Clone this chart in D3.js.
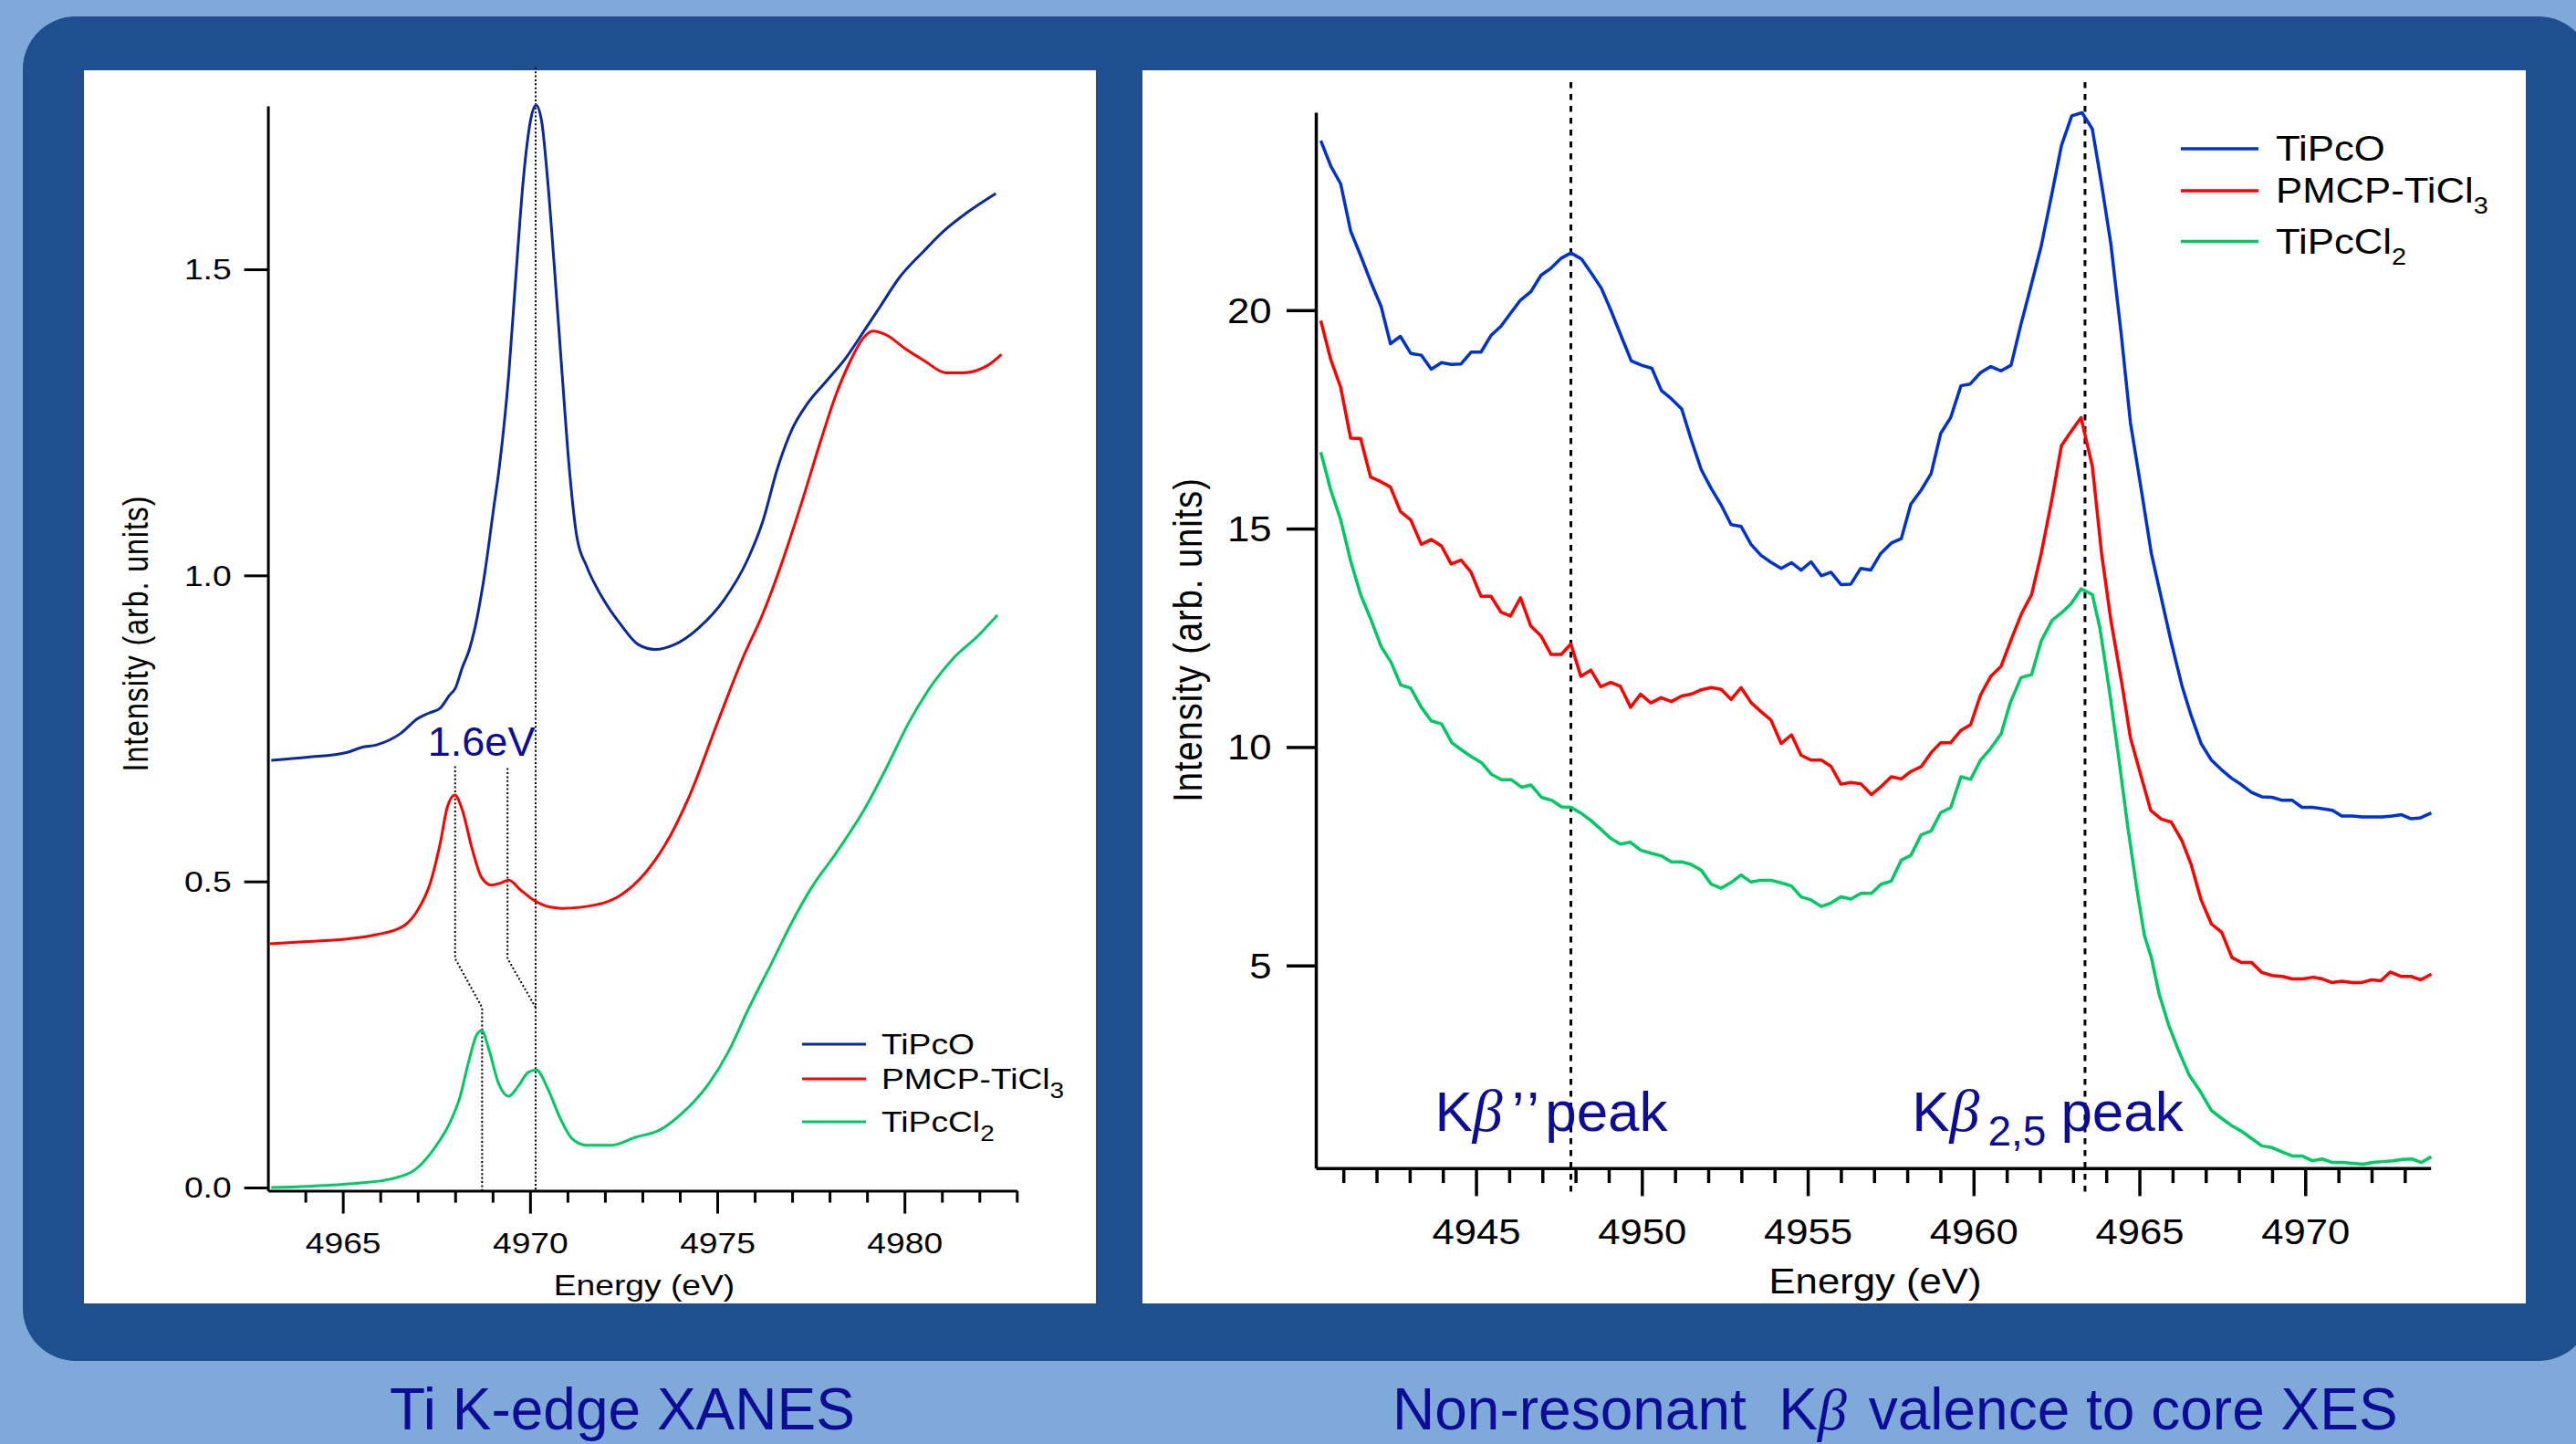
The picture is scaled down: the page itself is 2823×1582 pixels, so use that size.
<!DOCTYPE html>
<html>
<head>
<meta charset="utf-8">
<script src="https://cdn.jsdelivr.net/npm/d3@7"></script>
<style>
  html, body { margin: 0; padding: 0; background: #7fa9d8; }
  svg { display: block; }
</style>
</head>
<body>
<svg id="slide" width="2823" height="1582"></svg>
<script>
// ---- data ----
// Ti K-edge XANES  [energy eV, intensity]
const xanesTiPcO = [
  [4963.09,0.698],[4964.07,0.703],[4965.12,0.711],[4965.51,0.719],[4965.90,0.723],[4966.55,0.742],
  [4967.00,0.766],[4967.30,0.775],[4967.60,0.783],[4967.86,0.805],[4968.00,0.815],[4968.19,0.849],
  [4968.38,0.879],[4968.51,0.909],[4968.77,0.995],[4969.03,1.110],[4969.16,1.167],[4969.43,1.327],
  [4969.62,1.487],[4969.82,1.646],[4970.01,1.742],[4970.16,1.768],[4970.31,1.742],[4970.47,1.646],
  [4970.67,1.487],[4970.86,1.327],[4971.06,1.167],[4971.25,1.063],[4971.51,1.015],[4971.90,0.967],
  [4972.43,0.919],[4972.89,0.887],[4973.34,0.879],[4973.86,0.887],[4974.52,0.915],[4975.17,0.959],
  [4975.82,1.027],[4976.21,1.087],[4976.61,1.175],[4977.00,1.239],[4977.39,1.279],[4977.91,1.317],
  [4978.43,1.355],[4978.96,1.403],[4979.35,1.439],[4979.87,1.487],[4980.52,1.530],[4981.04,1.562],
  [4981.70,1.594],[4982.44,1.624]
];
const xanesPMCP = [
  [4963.05,0.398],[4964.07,0.402],[4965.12,0.406],[4965.90,0.413],[4966.62,0.427],[4967.01,0.454],
  [4967.34,0.498],[4967.60,0.562],[4967.79,0.621],[4967.99,0.641],[4968.19,0.617],[4968.45,0.554],
  [4968.71,0.506],[4968.97,0.494],[4969.20,0.497],[4969.43,0.502],[4969.75,0.486],[4970.08,0.470],
  [4970.54,0.458],[4970.86,0.456],[4971.78,0.462],[4972.43,0.478],[4973.08,0.514],[4973.60,0.559],
  [4974.26,0.640],[4975.04,0.765],[4975.69,0.866],[4976.21,0.936],[4976.74,1.023],[4977.26,1.120],
  [4977.78,1.223],[4978.17,1.295],[4978.56,1.351],[4978.89,1.387],[4979.15,1.399],[4979.54,1.392],
  [4980.00,1.371],[4980.52,1.351],[4981.11,1.331],[4981.57,1.331],[4982.22,1.343],[4982.59,1.361]
];
const xanesTiPcCl2 = [
  [4963.09,0.000],[4964.07,0.002],[4965.38,0.007],[4966.29,0.014],[4966.95,0.030],[4967.47,0.066],
  [4967.86,0.106],[4968.12,0.146],[4968.38,0.210],[4968.58,0.250],[4968.71,0.256],[4968.90,0.226],
  [4969.16,0.170],[4969.43,0.149],[4969.69,0.166],[4969.95,0.188],[4970.17,0.192],[4970.47,0.162],
  [4970.80,0.114],[4971.12,0.080],[4971.51,0.069],[4972.17,0.069],[4972.82,0.082],[4973.47,0.094],
  [4974.00,0.118],[4974.78,0.170],[4975.30,0.222],[4975.82,0.290],[4976.48,0.370],[4977.00,0.434],
  [4977.52,0.490],[4978.17,0.546],[4978.96,0.621],[4979.48,0.681],[4980.13,0.761],[4980.78,0.825],
  [4981.31,0.865],[4981.96,0.901],[4982.48,0.935]
];

// Kbeta valence to core XES  [energy eV, intensity]
const xesTiPcO = [
  [4940.32,23.88],[4940.62,23.30],[4940.92,22.89],[4941.22,21.81],[4941.52,21.25],[4941.82,20.66],
  [4942.14,20.08],[4942.42,19.23],[4942.72,19.40],[4943.03,19.01],[4943.35,18.97],[4943.65,18.65],
  [4943.96,18.80],[4944.25,18.76],[4944.55,18.77],[4944.85,19.04],[4945.15,19.04],[4945.45,19.42],
  [4945.75,19.63],[4946.04,19.93],[4946.34,20.23],[4946.65,20.42],[4946.96,20.80],[4947.26,20.96],
  [4947.57,21.19],[4947.86,21.31],[4948.18,21.17],[4948.48,20.84],[4948.78,20.50],[4949.08,19.97],
  [4949.39,19.38],[4949.68,18.84],[4949.99,18.74],[4950.30,18.67],[4950.59,18.16],[4950.89,17.97],
  [4951.20,17.74],[4951.49,17.03],[4951.79,16.35],[4952.09,15.92],[4952.39,15.54],[4952.69,15.09],
  [4952.99,15.05],[4953.29,14.64],[4953.59,14.39],[4953.89,14.23],[4954.20,14.09],[4954.51,14.22],
  [4954.80,14.05],[4955.10,14.24],[4955.41,13.92],[4955.70,14.00],[4956.00,13.72],[4956.30,13.73],
  [4956.60,14.09],[4956.90,14.05],[4957.20,14.43],[4957.52,14.67],[4957.82,14.77],[4958.11,15.56],
  [4958.42,15.88],[4958.72,16.26],[4959.01,17.18],[4959.31,17.54],[4959.62,18.27],[4959.90,18.31],
  [4960.21,18.57],[4960.52,18.71],[4960.83,18.61],[4961.13,18.74],[4961.43,19.68],[4961.73,20.55],
  [4962.04,21.47],[4962.35,22.62],[4962.65,23.77],[4962.96,24.45],[4963.27,24.52],[4963.58,24.15],
  [4963.86,22.88],[4964.14,21.51],[4964.45,19.46],[4964.73,17.42],[4965.04,15.97],[4965.36,14.43],
  [4965.66,13.41],[4965.96,12.40],[4966.28,11.41],[4966.56,10.72],[4966.86,10.08],[4967.17,9.70],
  [4967.46,9.49],[4967.77,9.29],[4968.07,9.14],[4968.38,8.96],[4968.69,8.86],[4969.00,8.85],
  [4969.31,8.78],[4969.61,8.78],[4969.90,8.62],[4970.21,8.62],[4970.51,8.59],[4970.82,8.55],
  [4971.10,8.42],[4971.42,8.42],[4971.72,8.40],[4972.03,8.40],[4972.32,8.40],[4972.62,8.42],
  [4972.90,8.45],[4973.18,8.36],[4973.48,8.38],[4973.80,8.49]
];
const xesPMCP = [
  [4940.32,19.76],[4940.62,18.87],[4940.92,18.23],[4941.22,17.07],[4941.52,17.06],[4941.82,16.18],
  [4942.14,16.07],[4942.42,15.95],[4942.72,15.39],[4943.03,15.20],[4943.35,14.64],[4943.65,14.75],
  [4943.96,14.60],[4944.25,14.19],[4944.55,14.28],[4944.85,14.00],[4945.15,13.45],[4945.45,13.45],
  [4945.75,13.09],[4946.04,13.00],[4946.34,13.42],[4946.65,12.77],[4946.96,12.54],[4947.26,12.12],
  [4947.57,12.12],[4947.86,12.36],[4948.16,11.62],[4948.46,11.76],[4948.76,11.38],[4949.06,11.48],
  [4949.35,11.39],[4949.66,10.91],[4949.96,11.21],[4950.27,11.01],[4950.58,11.13],[4950.89,11.04],
  [4951.20,11.17],[4951.49,11.21],[4951.79,11.31],[4952.09,11.36],[4952.39,11.32],[4952.69,11.09],
  [4952.99,11.36],[4953.29,11.02],[4953.59,10.81],[4953.89,10.62],[4954.20,10.08],[4954.51,10.28],
  [4954.80,9.81],[4955.10,9.70],[4955.41,9.70],[4955.70,9.56],[4956.00,9.15],[4956.30,9.19],
  [4956.60,9.16],[4956.92,8.91],[4957.22,9.10],[4957.52,9.32],[4957.82,9.27],[4958.11,9.44],
  [4958.42,9.55],[4958.72,9.87],[4959.01,10.10],[4959.31,10.10],[4959.62,10.38],[4959.91,10.51],
  [4960.21,11.19],[4960.52,11.62],[4960.83,11.85],[4961.13,12.45],[4961.45,13.06],[4961.75,13.49],
  [4962.04,14.43],[4962.35,15.62],[4962.65,16.90],[4962.94,17.22],[4963.24,17.54],[4963.58,16.43],
  [4963.86,14.43],[4964.14,12.90],[4964.48,11.41],[4964.73,10.21],[4965.04,9.36],[4965.34,8.55],
  [4965.66,8.35],[4965.96,8.28],[4966.28,7.86],[4966.56,7.31],[4966.86,6.50],[4967.17,5.95],
  [4967.48,5.76],[4967.79,5.18],[4968.07,5.07],[4968.38,5.07],[4968.69,4.84],[4969.00,4.77],
  [4969.31,4.75],[4969.61,4.69],[4969.93,4.69],[4970.23,4.73],[4970.52,4.69],[4970.80,4.61],
  [4971.10,4.64],[4971.42,4.61],[4971.70,4.61],[4972.00,4.67],[4972.28,4.65],[4972.56,4.85],
  [4972.88,4.75],[4973.18,4.75],[4973.48,4.67],[4973.80,4.80]
];
const xesTiPcCl2 = [
  [4940.32,16.75],[4940.62,15.88],[4940.92,15.20],[4941.22,14.26],[4941.52,13.49],[4941.82,12.94],
  [4942.14,12.30],[4942.44,11.94],[4942.73,11.42],[4943.03,11.35],[4943.35,10.91],[4943.65,10.60],
  [4943.96,10.53],[4944.27,10.10],[4944.57,9.93],[4944.86,9.78],[4945.17,9.64],[4945.47,9.37],
  [4945.77,9.25],[4946.07,9.25],[4946.37,9.08],[4946.66,9.13],[4946.97,8.85],[4947.28,8.78],
  [4947.58,8.63],[4947.86,8.62],[4948.16,8.49],[4948.46,8.32],[4948.76,8.12],[4949.06,7.91],
  [4949.35,7.78],[4949.66,7.82],[4949.96,7.64],[4950.27,7.57],[4950.58,7.51],[4950.89,7.37],
  [4951.20,7.37],[4951.49,7.31],[4951.79,7.18],[4952.09,6.86],[4952.39,6.77],[4952.69,6.90],
  [4952.99,7.07],[4953.29,6.91],[4953.59,6.95],[4953.89,6.95],[4954.20,6.89],[4954.51,6.82],
  [4954.80,6.57],[4955.10,6.50],[4955.41,6.35],[4955.70,6.43],[4956.00,6.57],[4956.30,6.52],
  [4956.60,6.65],[4956.92,6.65],[4957.21,6.86],[4957.52,6.93],[4957.82,7.41],[4958.11,7.52],
  [4958.42,7.99],[4958.72,8.08],[4959.01,8.50],[4959.31,8.61],[4959.62,9.32],[4959.91,9.26],
  [4960.21,9.70],[4960.52,9.97],[4960.83,10.30],[4961.11,11.02],[4961.43,11.59],[4961.75,11.66],
  [4962.04,12.43],[4962.37,12.90],[4962.65,13.07],[4962.94,13.28],[4963.24,13.62],[4963.58,13.49],
  [4963.81,12.72],[4964.09,11.32],[4964.37,9.79],[4964.65,8.17],[4964.93,6.72],[4965.15,5.69],
  [4965.36,5.18],[4965.60,4.33],[4965.88,3.64],[4966.16,3.09],[4966.50,2.49],[4966.84,2.11],
  [4967.17,1.68],[4967.46,1.51],[4967.77,1.34],[4968.07,1.21],[4968.38,1.04],[4968.69,0.87],
  [4969.00,0.83],[4969.31,0.73],[4969.61,0.64],[4969.90,0.64],[4970.21,0.53],[4970.51,0.57],
  [4970.82,0.49],[4971.13,0.49],[4971.42,0.47],[4971.74,0.45],[4972.03,0.49],[4972.34,0.51],
  [4972.64,0.53],[4972.94,0.56],[4973.22,0.57],[4973.50,0.49],[4973.80,0.62]
];

const seriesNames = [["TiPcO", ""], ["PMCP-TiCl", "3"], ["TiPcCl", "2"]];

const xanesEnergyMajor = [4965, 4970, 4975, 4980];
const xanesEnergyMinor = [4964, 4966, 4967, 4968, 4969, 4971, 4972, 4973, 4974, 4976, 4977, 4978, 4979, 4981, 4982, 4983];
const xanesIntensityTicks = [0, 0.5, 1.0, 1.5];

const xesEnergyMajor = [4945, 4950, 4955, 4960, 4965, 4970];
const xesEnergyMinor = [4941, 4942, 4943, 4944, 4946, 4947, 4948, 4949, 4951, 4952, 4953, 4954, 4956, 4957, 4958,
                        4959, 4961, 4962, 4963, 4964, 4966, 4967, 4968, 4969, 4971, 4972, 4973];
const xesIntensityTicks = [5, 10, 15, 20];

// guide lines (data units)
const xanesGuides = [
  [[4968.00, 0.688], [4968.00, 0.374], [4968.72, 0.294], [4968.72, -0.005]],
  [[4969.40, 0.685], [4969.40, 0.374], [4970.15, 0.294]],
  [[4970.15, 1.83], [4970.15, -0.005]]
];
const xesPeakEnergies = [4947.86, 4963.36];

const FONT = "'Liberation Sans', Arial, Helvetica, sans-serif";
const GREEK = "'Liberation Serif', 'DejaVu Serif', serif";
const NAVY = "#0c0c96";

const svg = d3.select("#slide");

// slide background
svg.append("rect").attr("width", 2823).attr("height", 1582).attr("fill", "#7fa9d8");
svg.append("rect")
  .attr("x", 25).attr("y", 18).attr("width", 2815).attr("height", 1473)
  .attr("rx", 58).attr("fill", "#1f4f8f");
svg.append("rect").attr("x", 92).attr("y", 77).attr("width", 1109).attr("height", 1351).attr("fill", "#fff");
svg.append("rect").attr("x", 1252).attr("y", 77).attr("width", 1516).attr("height", 1351).attr("fill", "#fff");

function drawAxes(g, x, y, cfg) {
  const s = cfg.stretch;
  const yAxis = g.append("g")
    .attr("transform", `translate(${x.range()[0]},0)`)
    .call(d3.axisLeft(y).tickValues(cfg.yTicks).tickFormat(cfg.yFormat)
      .tickSize(cfg.yTickLen).tickSizeOuter(0).tickPadding(0));
  yAxis.selectAll("text")
    .attr("x", -cfg.yLabelGap / s).attr("dy", "0.35em")
    .attr("transform", `scale(${s},1)`);

  const xAxis = g.append("g")
    .attr("transform", `translate(0,${y.range()[0]})`)
    .call(d3.axisBottom(x).tickValues(cfg.xMajor).tickFormat(d3.format("d"))
      .tickSize(cfg.majorLen).tickSizeOuter(0).tickPadding(0));
  xAxis.selectAll("text")
    .attr("y", cfg.xLabelDrop).attr("dy", 0)
    .attr("transform", `scale(${s},1)`);

  const minor = g.append("g")
    .attr("transform", `translate(0,${y.range()[0]})`)
    .call(d3.axisBottom(x).tickValues(cfg.xMinor).tickFormat("")
      .tickSize(cfg.minorLen).tickSizeOuter(0));
  minor.select(".domain").remove();

  [yAxis, xAxis, minor].forEach(a => {
    a.attr("font-family", FONT).attr("font-size", cfg.fontSize);
    a.selectAll("path, line").attr("stroke", "#000").attr("stroke-width", cfg.axisWidth);
    a.selectAll("text").attr("fill", "#000");
  });
}

function stretchedText(g, px, py, str, cfg, anchor) {
  return g.append("text")
    .attr("transform", `translate(${px},${py}) scale(${cfg.stretch},1)`)
    .attr("text-anchor", anchor || "start")
    .attr("font-family", FONT).attr("font-size", cfg.fontSize)
    .attr("fill", "#000")
    .text(str);
}

function drawLegend(g, cfg) {
  seriesNames.forEach((name, i) => {
    const ry = cfg.legendRows[i];
    g.append("line")
      .attr("x1", cfg.legendX[0]).attr("x2", cfg.legendX[1])
      .attr("y1", ry).attr("y2", ry)
      .attr("stroke", cfg.colors[i]).attr("stroke-width", cfg.lineWidth);
    const t = stretchedText(g, cfg.legendTextX, ry + cfg.legendBaseline, name[0], cfg);
    if (name[1]) {
      t.append("tspan").attr("font-size", cfg.fontSize * cfg.subScale)
        .attr("dy", cfg.fontSize * 0.32).text(name[1]);
    }
  });
}

// ---------------- left: Ti K-edge XANES ----------------
const xanesCfg = {
  stretch: 1.2, fontSize: 31, axisWidth: 3, lineWidth: 3,
  yTicks: xanesIntensityTicks, yFormat: d3.format(".1f"), yTickLen: 26, yLabelGap: 40,
  xMajor: xanesEnergyMajor, xMinor: xanesEnergyMinor, majorLen: 25, minorLen: 13, xLabelDrop: 68.6,
  colors: ["#0a2a9a", "#ff0000", "#00c864"],
  legendX: [879, 949], legendRows: [1144, 1182, 1229], legendTextX: 966, legendBaseline: 11, subScale: 0.75
};
const gL = svg.append("g");
const xL = d3.scaleLinear().domain([4963, 4983]).range([293.6, 1114.3]);
const yL = d3.scaleLinear().domain([-0.0054, 1.767]).range([1304.6, 116]);

const guideLine = d3.line().x(d => xL(d[0])).y(d => yL(d[1]));
gL.selectAll("path.guide").data(xanesGuides).join("path")
  .attr("class", "guide")
  .attr("d", guideLine)
  .attr("fill", "none").attr("stroke", "#000")
  .attr("stroke-width", 2).attr("stroke-dasharray", "2,2.4");

drawAxes(gL, xL, yL, xanesCfg);

const xanesLine = d3.line().x(d => xL(d[0])).y(d => yL(d[1])).curve(d3.curveMonotoneX);
gL.selectAll("path.series").data([xanesTiPcO, xanesPMCP, xanesTiPcCl2]).join("path")
  .attr("class", "series")
  .attr("d", xanesLine)
  .attr("fill", "none")
  .attr("stroke", (d, i) => xanesCfg.colors[i])
  .attr("stroke-width", xanesCfg.lineWidth)
  .attr("stroke-linejoin", "round");

drawLegend(gL, xanesCfg);

stretchedText(gL, 706, 1419, "Energy (eV)", xanesCfg, "middle");
gL.append("text")
  .attr("transform", "translate(162,694) rotate(-90) scale(1,1.2)")
  .attr("text-anchor", "middle")
  .attr("font-family", FONT).attr("font-size", 32).attr("letter-spacing", 1)
  .attr("fill", "#000")
  .text("Intensity (arb. units)");

gL.append("text")
  .attr("x", xL(4967.27)).attr("y", yL(0.705))
  .attr("font-family", FONT).attr("font-size", 45)
  .attr("fill", NAVY)
  .text("1.6eV");

// ---------------- right: K-beta XES ----------------
const xesCfg = {
  stretch: 1.15, fontSize: 38, axisWidth: 3.5, lineWidth: 3.5,
  yTicks: xesIntensityTicks, yFormat: d3.format("d"), yTickLen: 32, yLabelGap: 48.5,
  xMajor: xesEnergyMajor, xMinor: xesEnergyMinor, majorLen: 30.6, minorLen: 16.3, xLabelDrop: 82.9,
  colors: ["#0033cc", "#ff0000", "#00c864"],
  legendX: [2390, 2475], legendRows: [163, 209, 264.5], legendTextX: 2494, legendBaseline: 13, subScale: 0.66
};
const gR = svg.append("g");
const xR = d3.scaleLinear().domain([4940.17, 4973.78]).range([1442, 2663.7]);
const yR = d3.scaleLinear().domain([0.36, 24.53]).range([1279.8, 123]);

gR.selectAll("line.peak").data(xesPeakEnergies).join("line")
  .attr("class", "peak")
  .attr("x1", d => xR(d)).attr("x2", d => xR(d))
  .attr("y1", yR(25.22)).attr("y2", yR(-0.27))
  .attr("stroke", "#000").attr("stroke-width", 3)
  .attr("stroke-dasharray", "6.5,6.5");

drawAxes(gR, xR, yR, xesCfg);

const xesLine = d3.line().x(d => xR(d[0])).y(d => yR(d[1]));
gR.selectAll("path.series").data([xesTiPcO, xesPMCP, xesTiPcCl2]).join("path")
  .attr("class", "series")
  .attr("d", xesLine)
  .attr("fill", "none")
  .attr("stroke", (d, i) => xesCfg.colors[i])
  .attr("stroke-width", xesCfg.lineWidth)
  .attr("stroke-linejoin", "round");

drawLegend(gR, xesCfg);

stretchedText(gR, 2055, 1417, "Energy (eV)", xesCfg, "middle");
gR.append("text")
  .attr("transform", "translate(1317,701) rotate(-90) scale(1,1.15)")
  .attr("text-anchor", "middle")
  .attr("font-family", FONT).attr("font-size", 38).attr("letter-spacing", 1)
  .attr("fill", "#000")
  .text("Intensity (arb. units)");

// peak labels
const kb1 = gR.append("text")
  .attr("x", xR(4943.76)).attr("y", yR(1.21))
  .attr("font-family", FONT).attr("font-size", 62).attr("fill", NAVY);
kb1.append("tspan").text("K");
kb1.append("tspan").attr("font-family", GREEK).attr("font-style", "italic").attr("font-size", 66).text("β");
kb1.append("tspan").attr("dx", 10).attr("letter-spacing", 4).text("’’");
kb1.append("tspan").attr("dx", 2).text("peak");

const kb2 = gR.append("text")
  .attr("x", xR(4958.14)).attr("y", yR(1.21))
  .attr("font-family", FONT).attr("font-size", 62).attr("fill", NAVY);
kb2.append("tspan").text("K");
kb2.append("tspan").attr("font-family", GREEK).attr("font-style", "italic").attr("font-size", 66).text("β");
kb2.append("tspan").attr("dx", 9).attr("dy", 16).attr("font-size", 46).text("2,5");
kb2.append("tspan").attr("dx", 16).attr("dy", -16).text("peak");

// ---------------- captions ----------------
svg.append("text")
  .attr("x", 427).attr("y", 1566)
  .attr("font-family", FONT).attr("font-size", 64).attr("fill", NAVY)
  .text("Ti K-edge XANES");

const cap = svg.append("text")
  .attr("x", 1526).attr("y", 1566)
  .attr("font-family", FONT).attr("font-size", 64).attr("fill", NAVY)
  .attr("xml:space", "preserve");
cap.append("tspan").text("Non-resonant  K");
cap.append("tspan").attr("font-family", GREEK).attr("font-style", "italic").attr("font-size", 64).text("β");
cap.append("tspan").attr("dx", 6).text(" valence to core XES");
</script>
</body>
</html>
